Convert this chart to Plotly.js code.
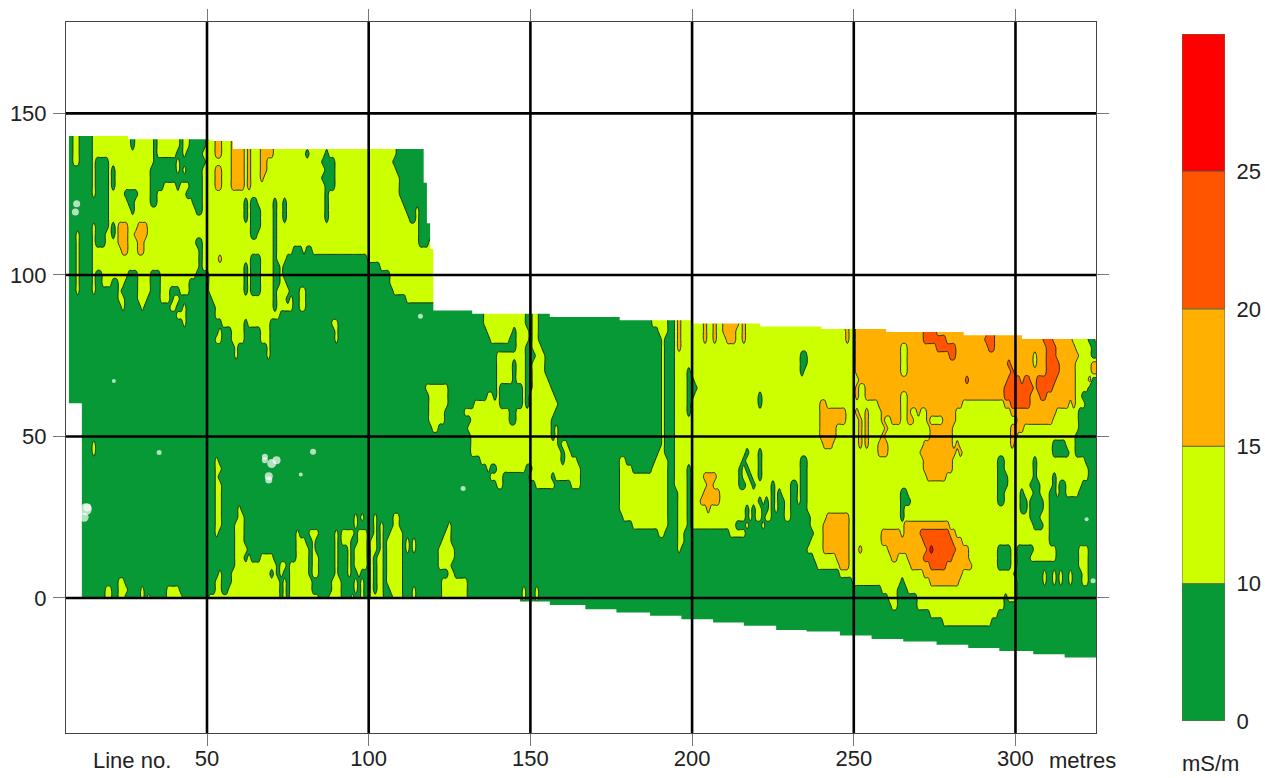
<!DOCTYPE html>
<html><head><meta charset="utf-8">
<script src="https://cdn.plot.ly/plotly-3.0.1.min.js"></script>
<style>html,body{margin:0;padding:0;background:#fff}</style></head>
<body><div id="chart" style="width:1265px;height:778px"></div>
<script>
// Conductivity classes used in the grid: index -> representative mS/m value
const bandValues = [7, 12.5, 17.5, 22.5, 27.5];
const contourColors = ['#079935', '#ccff00', '#ffb000', '#ff5500', '#ff0000'];
const legendLabels = ['0', '10', '15', '20', '25'];
const xTicks = [50, 100, 150, 200, 250, 300];
const yTicks = [0, 50, 100, 150];
const yLevels = [145,140,137.5,135,132.5,130,127.5,125,122.5,120,117.5,115,112.5,110,107.5,105,102.5,100,97.5,95,92.5,90,87.5,85,82.5,80,77.5,75,72.5,70,67.5,65,62.5,60,57.5,55,52.5,50,47.5,45,42.5,40,37.5,35,32.5,30,27.5,25,22.5,20,17.5,15,12.5,10,7.5,5,2.5,0,-2.5,-5,-7.5,-10,-15,-20];
// Each row, top to bottom: class, x where it ends, class, x where it ends ...
const bandRuns = [
/*145*/[0,9,1,10.5,0,14.5,1,26.5,0,27.5,1,33.5,0,35,1,41.5,0,43,1,45,0,49.5,1,52.8,2,54.5,1,57.6,2,61.8,1,62.2,2,63.8,1,66.4,2,70.5,1,108.6,0,326],
/*140*/[0,9,1,10.5,0,14.5,1,26.5,0,27.5,1,33.5,0,35,1,41.5,0,43,1,45,0,49.5,1,52.8,2,54.5,1,57.6,2,61.8,1,62.2,2,63.8,1,66.4,2,70.5,1,108.6,0,326],
/*137*/[0,9,1,11,0,14.5,1,33.6,0,35,1,41,0,41.5,1,41.7,0,42.7,1,44,0,49,1,53,2,54.5,1,57.6,2,61.7,1,62.2,2,63.8,1,66.4,2,70.5,1,81,0,81.7,1,86.5,0,88,1,108.5,0,326],
/*135*/[0,9,1,11,0,14.5,1,16,0,19.5,1,33.5,0,41,1,41.7,0,42.7,1,43,0,49.5,1,57.6,2,61.7,1,62.2,2,63.8,1,66.4,2,69,1,86,0,89.5,1,108,0,326],
/*132*/[0,14.5,1,15.3,0,19.5,1,20.5,0,21.8,1,33,0,41,1,41.6,0,42.7,1,44,0,49,1,52.8,2,54.8,1,57.6,2,61.7,1,62.2,2,63.8,1,66.8,2,68.5,1,86.2,0,89.8,1,109,0,326],
/*130*/[0,14.5,1,15.5,0,19.5,1,20.5,0,22,1,33,0,49,1,52.8,2,54.8,1,57.6,2,61.7,1,62.2,2,63.8,1,67,2,68,1,86,0,90,1,109.6,0,326],
/*127*/[0,14.5,1,15.3,0,19.5,1,20.5,0,22,1,32.7,0,36.5,1,40.5,0,42,1,44.2,0,49,1,52.8,2,54.5,1,57.6,2,61.7,1,62.8,2,63.3,1,86.2,0,90,1,109.8,0,326],
/*125*/[0,14.5,1,15.2,0,19.5,1,25,0,28.7,1,32.4,0,35,1,44,0,49,1,86.4,0,88,1,110,0,326],
/*122*/[0,14.5,1,15,0,19.5,1,25.5,0,27.8,1,32.7,0,34.5,1,45.7,0,49,1,62,0,62.8,1,64,0,65.5,1,70.5,0,71.7,1,73.4,0,74.8,1,86.5,0,88,1,111,0,326],
/*120*/[0,14.5,1,15,0,19.5,1,26.5,0,27.5,1,47,0,49,1,62,0,62.8,1,64,0,66.5,1,70.5,0,71.7,1,73.4,0,74.8,1,86.7,0,87.5,1,112,0,114.3,1,115.5,0,326],
/*117*/[0,14.5,1,15,0,19.5,1,62,0,62.8,1,64,0,66.5,1,70.5,0,71.7,1,73.4,0,74.8,1,86.8,0,87.3,1,112.5,0,114.3,1,115.5,0,326],
/*115*/[0,14.5,1,15.4,0,19.7,1,20.5,0,22,1,23,2,25.7,1,28.2,2,31.1,1,63.8,0,66.5,1,70.5,0,71.7,1,115.8,0,326],
/*112*/[0,9.7,1,10.5,0,14.5,1,15.5,0,19,1,20.5,0,21.5,1,23,2,25.5,1,28,2,32,1,64,0,66,1,70.5,0,71.7,1,116,0,119.5,1,326],
/*110*/[0,9.7,1,10.7,0,14.5,1,16,0,18.5,1,23,2,25.5,1,28.5,2,31,1,47,0,48.5,1,70.5,0,71.7,1,116,0,119,1,326],
/*107*/[0,9.7,1,10.7,0,14.5,1,23.5,2,25.5,1,28.3,2,30.5,1,47.5,0,48.6,1,70.5,0,71.7,1,77,0,80,1,81,0,83,1,326],
/*105*/[0,9.7,1,10.7,0,14.5,1,47.5,0,48.6,1,53.4,2,54.4,1,63.8,0,66.5,1,70.5,0,71.7,1,74.6,0,99.5,1,326],
/*102*/[0,9.7,1,10.7,0,14.5,1,47.5,0,48.6,1,62,0,62.8,1,64,0,67,1,70.5,0,72.5,1,74,0,103.5,1,326],
/*100*/[0,9.7,1,10.7,0,14.5,1,15.5,0,17.4,1,25.7,0,28.8,1,32.4,0,36,1,46.3,0,50.4,1,62,0,62.8,1,64,0,67,1,70.5,0,72.5,1,74,0,106.5,1,326],
/* 97*/[0,9.7,1,10.7,0,14.9,1,15.7,0,18,1,21,0,23,1,25,0,28.8,1,32.4,0,35.5,1,45,0,51,1,62,0,62.5,1,64,0,67,1,70.5,0,72.5,1,74.5,0,80.3,1,81,0,107,1,326],
/* 95*/[0,9.7,1,10.7,0,14.9,1,15.7,0,23,1,24,0,28.8,1,32.8,0,35.5,1,38.5,0,42,1,45,0,51,1,62,0,62.8,1,64,0,67,1,70.5,0,72,1,76,0,78.7,1,80.3,0,107.5,1,326],
/* 92*/[0,23,1,24.5,0,29,1,31.5,0,36,1,38.5,0,39.5,1,42,0,52,1,70.5,0,71.7,1,75,0,75.5,1,77,0,79,1,80.3,0,112,1,326],
/* 90*/[0,23.5,1,24.5,0,29.3,1,30.8,0,38.5,1,41,0,42.2,1,43.7,0,52.4,1,54.5,0,55,1,70.5,0,71.7,1,76.7,0,79,1,80.3,0,136,1,149,0,150.2,1,152.4,0,187.5,1,192.6,0,195,1,203.5,2,204.5,1,206.5,2,207.5,1,209.6,2,214.2,1,215.3,2,216.2,1,246.7,2,249,1,250.4,2,271.5,3,275.6,2,284.3,3,293,2,308.5,3,311.6,2,318.3,1,322,0,326],
/* 87*/[0,41,1,43.7,0,53,1,70.5,0,71,1,73,0,136,1,149,0,150.2,1,152.4,0,187.5,1,192.6,0,195,1,196,2,197,1,203.5,2,204.5,1,206.5,2,207.5,1,209.6,2,214.2,1,215.3,2,216.2,1,246.7,2,249,1,250.4,2,271.5,3,275.6,2,284.3,3,293,2,308.5,3,311.6,2,318.3,1,322,0,326],
/* 85*/[0,42.6,1,43.5,0,54.5,1,61.2,0,63,1,70,0,89,1,91,0,136,1,149,0,150.2,1,152.4,0,187.5,1,192.6,0,195,1,196,2,197,1,203.5,2,204.5,1,206.5,2,207.5,1,209.6,2,214.2,1,215.3,2,216.2,1,246.7,2,249,1,250.4,2,271.5,3,275.6,2,284.3,3,293,2,308.5,3,311.6,2,318.3,1,322,0,326],
/* 82*/[0,53.5,1,54.5,0,58,1,61.2,0,66.5,1,70,0,89.5,1,91,0,137,1,144.7,0,145.5,1,149.3,0,151,1,152.5,0,190,1,192.6,0,195,1,196,2,197,1,204,2,205,1,207,2,208,1,209.8,2,214,1,215.3,2,216.2,1,247.5,2,249,1,250.4,2,271.5,3,276,2,284.3,3,285,2,292,3,293.5,2,308.8,3,312,2,318,1,323,0,326],
/* 80*/[0,53,1,54.5,0,57.6,1,61.2,0,66.9,1,70,0,90,1,91,0,138,1,143.7,0,146,1,149.3,0,151,1,152.5,0,190.5,1,192,0,195,1,196,2,197,1,204,2,205,1,207,2,208,1,210.5,2,213.5,1,215.3,2,216.2,1,247.8,2,249,1,250.4,2,272,3,278.7,2,291,3,294,2,309,3,312,2,317.3,1,322.5,0,324.5,1,326],
/* 77*/[0,59,1,59.6,0,68.8,1,70,0,146,1,149,0,151,1,154,0,190.5,1,192,0,195,1,196,2,196.8,1,250.4,2,264.3,1,266.8,2,275.6,3,281.8,2,292,3,294,2,310,3,312.7,2,318.8,1,324,0,326],
/* 75*/[0,59,1,59.6,0,69,1,70,0,139.5,1,145.2,0,146,1,149,0,151.4,1,154.5,0,190.5,1,192,0,195,1,233.6,0,235.2,1,250.4,2,264.3,1,266.8,2,279.7,3,281.8,2,305.5,1,306.5,2,310,3,312.7,2,319.4,1,324,0,326],
/* 72*/[0,139.5,1,145,0,146,1,149,0,151,1,154.8,0,190.5,1,191.5,0,195,1,233.6,0,235.2,1,250.5,2,264.3,1,266.8,2,298,3,299,2,305.5,1,306.5,2,309.5,3,313.5,2,319,1,324,2,326],
/* 70*/[0,139.5,1,144.7,0,146,1,149,0,151,1,155,0,190.5,1,191.5,0,195,1,198.8,0,200,1,234,0,235,1,250.9,2,264.3,1,266.8,2,298.2,3,300,2,309.6,3,313.7,2,318.8,1,324,2,326],
/* 67*/[0,140,1,145,0,146,1,149,0,151,1,156,0,190.5,1,191.5,0,195,1,198.8,0,200.5,1,252,2,285,3,286,2,297.5,3,301.5,2,302.5,3,305,2,307,3,312.7,2,319,1,323,2,324,0,326],
/* 65*/[0,118,1,124.5,0,140,1,141,0,147.3,1,149,0,151,1,157,0,190.5,1,191.5,0,195,1,198.8,0,201.4,1,250.9,2,251.8,1,253.4,2,296.7,3,306,2,306.5,3,311.6,2,318.8,1,323,0,326],
/* 62*/[0,118.2,1,124.8,0,137,1,139,0,139.5,1,141,0,147.5,1,149,0,150,1,158,0,190.5,1,191.5,0,195,1,198.8,0,201,1,221,0,221.6,1,251,2,252,1,253.5,2,264.3,1,266.8,2,297,3,305,2,308,3,310,2,318.5,1,321,0,326],
/* 60*/[0,118.4,1,125,0,133,1,140.6,0,147.8,1,149,0,150,1,158.6,0,190.5,1,191.5,0,195,1,198.8,0,200,1,220.5,0,221.3,1,240,2,242,1,257.6,2,264.3,1,266.8,2,268.4,1,269,2,283.8,1,296.7,2,298.8,3,304.4,2,316.8,1,317.3,2,318.8,1,322,0,326],
/* 57*/[0,118.8,1,124,0,130,1,143.5,0,145.9,1,158,0,190.5,1,191.5,0,195,1,198.8,0,200,1,240,2,247.5,1,251,2,252,1,253.7,2,254.5,1,259,2,264.3,1,266.8,2,268,1,269.5,2,271,1,273,2,281.5,1,282.5,2,283,1,298.5,2,313,1,320,0,326],
/* 55*/[0,119,1,123.5,0,131.8,1,143.7,0,145.7,1,157,0,190.5,1,191.5,0,195,1,240,2,247.8,1,251.5,2,252.5,1,253.7,2,254.5,1,259,2,260,1,261.7,2,264.3,1,266.8,2,268.4,1,273,2,274,1,277.6,2,281.8,1,300.3,2,311.6,1,319.4,0,326],
/* 52*/[0,119.5,1,122,0,130.8,1,157,0,158,1,158.5,0,190.5,1,191.5,0,195,1,240,2,245,1,251.5,2,252.5,1,253.7,2,254.5,1,260,2,261,1,274,2,280.7,1,298.5,2,303,1,319.5,0,326],
/* 50*/[0,131.3,1,157,0,158,1,158.6,0,190.5,1,192,0,195,1,240,2,244.7,1,251.5,2,252.5,1,253.7,2,254.5,1,258.6,2,259.3,1,273.5,2,280.7,1,298.2,2,300.3,1,319,0,326],
/* 47*/[0,14.5,1,15.5,0,131.3,1,158.5,0,160,1,161.5,0,190.5,1,192,0,195,1,241,2,244,1,251.7,2,252.4,1,253.8,2,254.3,1,258,2,260.5,1,272,2,280.7,1,282,2,282.5,1,298.5,2,300,1,312,0,316,1,319,0,326],
/* 45*/[0,14.5,1,15.5,0,131.3,1,159.6,0,161,1,163,0,190,1,192,0,195,1,217,0,218,1,221,0,222,1,258,2,260.7,1,271,2,281.3,1,283,2,284,1,312,0,316.3,1,319,0,326],
/* 42*/[0,53,1,54,0,134.4,1,159.5,0,161,1,164.3,0,177.5,1,180,0,189,1,192.6,0,195,1,216,0,217,1,221,0,222,1,233.6,0,235.4,1,272,2,281,1,295,0,296.5,1,306,0,306.4,1,322,0,326],
/* 40*/[0,53,1,54.5,0,136.5,1,138,0,140,1,149,0,150.4,1,165.8,0,177.1,1,181.8,0,188,1,192.6,0,195,1,199,0,200,1,215,0,216,1,217,0,218,1,221,0,222,1,233.6,0,235.4,1,272,2,280.7,1,295,0,296.7,1,305.5,0,306.4,1,322.5,0,326],
/* 37*/[0,53,1,54,0,138,1,142,0,150,1,156.5,0,157.5,1,165.8,0,177.2,1,192.6,0,195,1,198.8,0,200,1,203.5,2,207.5,1,215,0,216,1,218,0,219,1,221,0,222,1,233.9,0,235.4,1,272.7,2,279,1,295,0,297.5,1,305.5,0,307,1,312,0,313,1,323,0,326],
/* 35*/[0,53,1,54.5,0,139.5,1,141.5,0,152,1,158,0,163,1,165.8,0,177.2,1,192.6,0,195,1,198.8,0,200,1,204.5,2,207,1,215,0,216.5,1,219,0,220,1,224.6,0,225.3,1,230.8,0,232.3,1,233.9,0,235.4,1,294.6,0,297.7,1,305,0,307.5,1,311.5,0,312.5,1,314,0,316,1,321,0,326],
/* 32*/[0,53,1,54.5,0,177.2,1,192.6,0,195.5,1,199,0,199.8,1,203.3,2,208.5,1,215.5,0,216,1,224.6,0,225.3,1,227,0,228,1,231,0,232.5,1,234,0,235.3,1,264.8,0,266.5,1,295,0,297,1,302,0,303,1,305.5,0,308,1,311,0,312.5,1,314,0,316,1,320,0,326],
/* 30*/[0,53,1,54.5,0,177.2,1,192.6,0,195.5,1,199,0,200,1,202.5,2,208.6,1,221,0,222,1,223,0,224,1,224.6,0,225.5,1,226.7,0,228.7,1,230.8,0,232.8,1,234,0,235.4,1,264.3,0,267.3,1,294.6,0,296.7,1,302,0,303.5,1,304.4,0,309,1,310.6,0,326],
/* 27*/[0,53,1,54.5,0,59.5,1,61,0,177.5,1,192.6,0,195.8,1,199,0,199.5,1,205,2,206,1,217,0,218,1,219,0,220,1,221.5,0,224,1,224.6,0,225.5,1,226.5,0,229,1,231,0,235.8,1,265,0,266,1,302,0,303.5,1,305,0,308.5,1,310.5,0,326],
/* 25*/[0,53,1,54.5,0,59.1,1,61.7,0,95.5,1,96.5,0,97.5,1,98.5,0,101.5,1,103,0,108,1,110,0,178.7,1,192.6,0,196,1,199,0,200,1,217,0,218,1,219,0,220,1,222,0,223,1,224.6,0,225.5,1,226,0,229,1,230.8,0,236.5,1,241.6,2,248.3,1,264.5,0,266,1,305,0,308,1,310.6,0,326],
/* 22*/[0,53,1,54.5,0,59,1,61.7,0,96,1,97,0,102,1,103,0,104,1,105,0,107.5,1,110,0,124.8,1,125.5,0,181.8,1,192.6,0,196,1,198.5,0,200,1,214,0,216.3,1,218,0,222,1,223,0,236.5,1,241,2,248.3,1,265.3,2,280,1,306,0,308.5,1,310.6,0,326],
/* 20*/[0,53,1,54,0,58.6,1,61.7,0,77.7,1,78.7,0,82,1,84.4,0,89.5,1,90.5,0,92,1,96,0,97,1,99.3,0,102,1,103,0,104,1,105,0,106.5,1,110.6,0,124,1,125.6,0,190,1,192,0,196,1,198,0,211.7,1,216.8,0,237.5,1,241,2,248.3,1,258.6,2,264.3,1,265.3,2,270.4,3,279.2,2,281.8,1,310.6,0,326],
/* 17*/[0,58.6,1,61.7,0,77.7,1,81,0,82.5,1,84,0,89.5,1,90.5,0,92,1,95,0,96.5,1,99.3,0,101,1,103,0,103.5,1,104.5,0,106,1,110.6,0,112,1,113,0,114,1,115,0,123,1,126,0,196,1,197.3,0,237,1,241,2,248.3,1,258.7,2,264.5,1,265,2,271.5,3,280.5,2,283.5,1,310.5,0,326],
/* 15*/[0,58.3,1,61.7,0,62,1,63,0,77.7,1,81.3,0,83,1,84,0,89.5,1,90.5,0,94,1,95,0,96,1,99.3,0,101,1,103,0,103.5,1,104.5,0,106,1,110.6,0,112,1,113,0,114,1,115,0,121.5,1,126.6,0,196,1,197,0,236,1,241,2,248.3,1,251.5,2,252.5,1,260.7,2,264.8,1,265,2,272.5,3,273.5,4,274.5,3,281.8,2,285.4,1,294.6,0,298.8,1,300.3,0,305.5,1,312.7,0,319.9,1,323,0,326],
/* 12*/[0,58.6,1,61.7,0,62.2,1,63.3,0,66.5,1,70.5,0,71.5,1,72,0,77.7,1,81.3,0,82.3,1,84.4,0,89.5,1,90.5,0,94,1,95,0,96,1,99.3,0,101,1,102,0,102.5,1,104.5,0,106,1,110.6,0,122,1,126.6,0,238,1,245,2,248.5,1,262,2,264,1,266.5,2,272,3,281,2,286,1,294.6,0,298.8,1,300.3,0,305,1,312.5,0,319.9,1,323,0,326],
/* 10*/[0,58.3,1,70.5,0,71,1,72,0,73,1,75,0,75.6,1,81.3,0,82.3,1,84.4,0,89.5,1,90.5,0,94,1,95,0,96,1,99.3,0,101,1,102,0,102.5,1,104.5,0,106,1,110.6,0,122,1,126,0,239,1,245.2,2,248.3,1,268,2,273.5,3,278.7,2,287,1,294.6,0,298.8,1,300.3,0,308.5,1,309,0,312.7,1,313,0,319.9,1,323,0,326],
/*  7*/[0,53.5,1,54.5,0,57.8,1,70,0,71,1,72,0,73,1,74,0,75.6,1,81.3,0,82.3,1,84.4,0,89.5,1,91,0,94,1,95,0,97,1,98,0,101,1,102,0,102.5,1,104.5,0,106,1,110.6,0,125,1,127,0,245.7,1,271.5,2,283.8,1,300,0,309,1,310,0,312,1,313,0,314,1,315,0,316.5,1,317.5,0,321,1,323,0,326],
/*  5*/[0,23,1,25,0,53,1,55,0,57.6,1,72.5,0,73.6,1,74.5,0,75.6,1,81.3,0,82,1,82.5,0,89,1,92,0,96,1,96.5,0,98,1,99,0,101,1,102,0,102.5,1,104.5,0,106,1,110.6,0,123,1,131,0,249.8,1,264.3,0,265.8,1,273.5,2,282.8,1,300.3,0,309,1,310,0,312,1,313,0,314,1,315,0,316.5,1,317.5,0,321,1,322.5,0,326],
/*  2*/[0,19,1,20.5,0,23,1,25.2,0,30,1,31,0,37.5,1,42,0,53,1,55,0,57,1,72.5,0,73.6,1,74.5,0,75.6,1,81.3,0,82,1,83,0,89,1,91.5,0,96,1,96.5,0,98,1,99,0,101,1,102,0,103,1,104.5,0,106.5,1,110.2,0,114,1,114.5,0,122.7,1,130.8,0,147.5,1,148.5,0,151.5,1,152.5,0,258.5,1,264,0,266.5,1,301,0,326],
/*  0*/[0,19,1,20.5,0,23,1,25,0,30,1,31,0,32,1,33,0,37.5,1,43,0,51,1,72.5,0,73.6,1,74.5,0,75.6,1,81.3,0,82,1,85,0,88,1,92,0,95,1,96,0,98,1,99,0,101,1,104.5,0,108,1,110.2,0,114,1,114.5,0,122.5,1,131,0,147.5,1,148.5,0,151.5,1,152.5,0,260.7,1,264,0,269.4,1,296.2,0,298,1,301,0,326],
/* -2*/[0,51,1,72,0,122.5,1,131,0,261.5,1,263.5,0,269.5,1,297,0,326],
/* -5*/[0,273.5,1,295,0,326],
/* -7*/[0,278,1,293,0,326],
/*-10*/[0,326],
/*-15*/[0,326],
/*-20*/[0,326]
];
// Edge of the surveyed area, walked with horizontal-then-vertical steps
const surveyEdgeX = [6.4,6.4,326,315.2,305.5,295,285.4,275.6,265.3,255.5,245.7,235.4,226,216,206.5,196.7,187,176.6,167,156,146.8,137.5,11.3,7.3,25.6,51,58,117,118,119,120,132,156,177.6,200,221,240,260,284,302,326,6.4];
const surveyEdgeY = [178.3,-41.8,-18.4,-17.4,-16.4,-15.5,-14.5,-13.5,-12.7,-11.6,-10.4,-9.9,-8.6,-7.6,-6.6,-5.5,-4.5,-3.5,-2.2,-1.1,-0.3,0,60.3,143,142,141.5,139,128.5,116,108,89,88,87,86,85,84,83.3,82.3,81.3,80.2,178.3,178.3];
// Small gaps in the data
const gapX = [9.7,9.3,67.9,67.9,70,71.5,69.1,69.1,35.2,82.8,79,129.2,21.2,116,12.5,12,13,324,322];
const gapY = [122,119.5,43.7,42.6,41.6,42.6,37.7,36.5,45,45.3,38.2,33.9,67.2,87.2,27.5,25,28,5.3,24.4];
const gapSize = [7,7,6,6,9,8,8,7,5,6,4,5,4,5,12,9,8,5,4];

const xGrid = [];
for (let v = 6; v <= 326; v++) xGrid.push(v);
function expandRow(runs){
  return xGrid.map(function(x){
    for (let i = 0; i < runs.length; i += 2) { if (x < runs[i+1]) return bandValues[runs[i]]; }
    return bandValues[runs[runs.length-2]];
  });
}
const zGrid = bandRuns.map(expandRow).reverse();
const yGrid = yLevels.slice().reverse();

const W = 1265, H = 778;
const X0 = 6.4, X1 = 324.9, Y0 = -41.8, Y1 = 178.3;
const font = 'Liberation Sans, Arial, sans-serif';
const traces = [
 {type:'contour', x:xGrid, y:yGrid, z:zGrid, xaxis:'x', yaxis:'y', showscale:false, hoverinfo:'skip',
  autocontour:false, contours:{start:10,end:25,size:5,coloring:'fill',showlines:true},
  colorscale:contourColors.map(function(c,i){return [i/(contourColors.length-1),c];}),
  line:{color:'#14261a',width:0.9,smoothing:1}},
 {type:'scatter', mode:'lines', x:surveyEdgeX, y:surveyEdgeY, xaxis:'x', yaxis:'y', fill:'toself', fillcolor:'#ffffff',
  line:{width:0,shape:'hv',color:'#ffffff'}, hoverinfo:'skip', showlegend:false},
 {type:'scatter', mode:'markers', x:gapX, y:gapY, xaxis:'x', yaxis:'y', hoverinfo:'skip', showlegend:false,
  marker:{color:'#ffffff',size:gapSize,line:{width:0}}},
 {type:'bar', x:legendLabels.map(function(){return 0.5;}), y:legendLabels.map(function(){return 1;}),
  base:legendLabels.map(function(l,i){return i;}), width:1, xaxis:'x2', yaxis:'y2', hoverinfo:'skip', showlegend:false,
  marker:{color:contourColors,line:{color:'#6b6b45',width:1}}}
];
const gridStyle = {color:'#000',width:2.6};
const shapes = xTicks.map(function(v){return {type:'line',xref:'x',yref:'y',x0:v,x1:v,y0:Y0,y1:Y1,layer:'above',line:gridStyle};})
 .concat(yTicks.map(function(v){return {type:'line',xref:'x',yref:'y',x0:X0,x1:X1,y0:v,y1:v,layer:'above',line:gridStyle};}));
const layout = {
 width:W, height:H, margin:{l:0,r:0,t:0,b:0}, paper_bgcolor:'#fff', plot_bgcolor:'#fff', showlegend:false,
 font:{family:font,size:22,color:'#222'},
 xaxis:{domain:[66/W,1096/W], range:[X0,X1], tickmode:'array', tickvals:xTicks, ticks:'outside', ticklen:12, tickwidth:1, tickcolor:'#777', ticklabelstandoff:-6,
  showline:true, linecolor:'#444', linewidth:1, mirror:'ticks', showgrid:false, zeroline:false, anchor:'y'},
 yaxis:{domain:[1-733/H,1-22/H], range:[Y0,Y1], tickmode:'array', tickvals:yTicks, ticks:'outside', ticklen:12, tickwidth:1, tickcolor:'#777', ticklabelstandoff:2,
  showline:true, linecolor:'#444', linewidth:1, mirror:'ticks', showgrid:false, zeroline:false, anchor:'x'},
 xaxis2:{domain:[1182/W,1225/W], range:[0,1], visible:false, anchor:'y2'},
 yaxis2:{domain:[1-721/H,1-34/H], range:[0,5], side:'right', anchor:'x2', tickmode:'array', tickvals:legendLabels.map(function(l,i){return i;}), ticktext:legendLabels,
  ticks:'outside', ticklen:6, tickcolor:'rgba(0,0,0,0)', showgrid:false, zeroline:false, showline:false},
 shapes:shapes,
 annotations:[
  {text:'Line no.', xref:'paper', yref:'paper', x:132/W, y:1-760/H, showarrow:false, xanchor:'center', yanchor:'middle'},
  {text:'metres', xref:'paper', yref:'paper', x:1082/W, y:1-760/H, showarrow:false, xanchor:'center', yanchor:'middle'},
  {text:'mS/m', xref:'paper', yref:'paper', x:1210/W, y:1-763/H, showarrow:false, xanchor:'center', yanchor:'middle'}
 ]
};
Plotly.newPlot('chart', traces, layout, {displayModeBar:false, staticPlot:true});
</script></body></html>
